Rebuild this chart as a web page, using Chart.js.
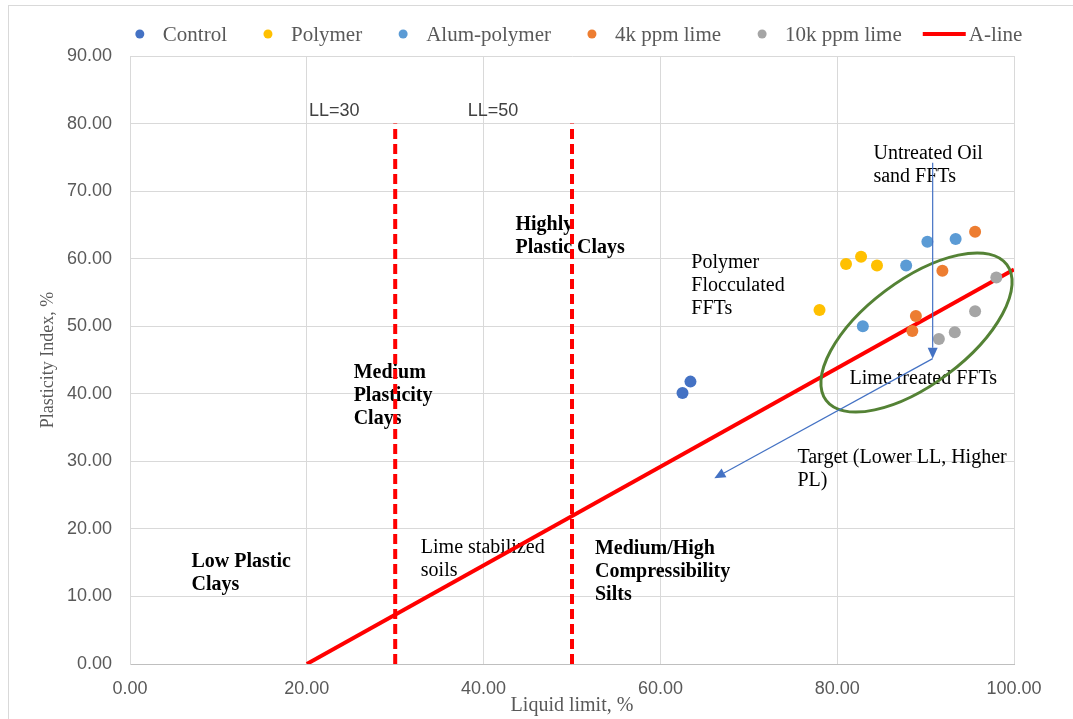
<!DOCTYPE html>
<html>
<head>
<meta charset="utf-8">
<title>Plasticity chart</title>
<script src="https://cdn.jsdelivr.net/npm/chart.js@4.4.1/dist/chart.umd.min.js"></script>
<style>
  html, body { margin: 0; padding: 0; background: #ffffff; overflow: hidden; }
  canvas { display: block; }
</style>
</head>
<body>
<canvas id="chart" width="1073" height="719"></canvas>
<script>
// ---- Data: liquid limit (LL, %) and plasticity index (PI, %) ----
const controlLL = [62.5, 63.4];
const controlPI = [40.1, 41.8];

const polymerLL = [78.0, 81.0, 82.7, 84.5];
const polymerPI = [52.4, 59.2, 60.3, 59.0];

const alumPolymerLL = [82.9, 87.8, 90.2, 93.4];
const alumPolymerPI = [50.0, 59.0, 62.5, 62.9];

const lime4kLL = [95.6, 91.9, 88.9, 88.5];
const lime4kPI = [64.0, 58.2, 51.5, 49.3];

const lime10kLL = [98.0, 95.6, 93.3, 91.5];
const lime10kPI = [57.2, 52.2, 49.1, 48.1];

// A-line end points
const aLineLL = [20, 100];
const aLinePI = [0, 58.4];

// Liquid-limit boundaries (LL = 30 and LL = 50)
const boundaryLL = [30, 50];
const boundaryPI = [0, 80];

// Axis ticks
const xTicks = [0, 20, 40, 60, 80, 100];
const yTicks = [0, 10, 20, 30, 40, 50, 60, 70, 80, 90];

// Arrows: [fromLL, fromPI, toLL, toPI]
const untreatedArrow = [90.8, 74.2, 90.8, 45.2];
const targetArrow = [90.8, 45.2, 66.1, 27.5];

// Circled zone of lime treated points (centre in data units)
const limeZoneLL = 88.97;
const limeZonePI = 49.07;

const pairs = (xs, ys) => xs.map((x, i) => ({ x: x, y: ys[i] }));

const COLORS = {
  control: '#4472C4',
  polymer: '#FFC000',
  alum: '#5B9BD5',
  lime4k: '#ED7D31',
  lime10k: '#A5A5A5',
  aline: '#FF0000'
};

const SERIF = '"Liberation Serif", "Times New Roman", serif';
const SANS = '"Liberation Sans", Arial, sans-serif';

function scatterSet(label, xs, ys, color) {
  return {
    label: label,
    data: pairs(xs, ys),
    backgroundColor: color,
    borderColor: color,
    borderWidth: 0,
    pointRadius: 6,
    pointHoverRadius: 6,
    showLine: false
  };
}

const datasets = [
  scatterSet('Control', controlLL, controlPI, COLORS.control),
  scatterSet('Polymer', polymerLL, polymerPI, COLORS.polymer),
  scatterSet('Alum-polymer', alumPolymerLL, alumPolymerPI, COLORS.alum),
  scatterSet('4k ppm lime', lime4kLL, lime4kPI, COLORS.lime4k),
  scatterSet('10k ppm lime', lime10kLL, lime10kPI, COLORS.lime10k),
  {
    label: 'A-line',
    data: pairs(aLineLL, aLinePI),
    showLine: true,
    borderColor: COLORS.aline,
    backgroundColor: COLORS.aline,
    borderWidth: 4,
    pointRadius: 0,
    borderCapStyle: 'butt'
  }
].concat(boundaryLL.map(ll => ({
  label: 'LL=' + ll,
  data: pairs([ll, ll], boundaryPI),
  showLine: true,
  borderColor: COLORS.aline,
  borderWidth: 4,
  borderDash: [10, 5],
  pointRadius: 0
})));

// Legend entries (series shown in the key)
const legendItems = [
  { text: 'Control', color: COLORS.control, kind: 'dot' },
  { text: 'Polymer', color: COLORS.polymer, kind: 'dot' },
  { text: 'Alum-polymer', color: COLORS.alum, kind: 'dot' },
  { text: '4k ppm lime', color: COLORS.lime4k, kind: 'dot' },
  { text: '10k ppm lime', color: COLORS.lime10k, kind: 'dot' },
  { text: 'A-line', color: COLORS.aline, kind: 'line' }
];

// Text notes placed in data units (left edge, first baseline)
const notes = [
  { lines: ['LL=30'], x: 20.25, y: 81.1, font: '18px ' + SANS, color: '#404040' },
  { lines: ['LL=50'], x: 38.2, y: 81.1, font: '18px ' + SANS, color: '#404040' },
  { lines: ['Highly', 'Plastic Clays'], x: 43.6, y: 64.2, font: 'bold 20px ' + SERIF },
  { lines: ['Medium', 'Plasticity', 'Clays'], x: 25.3, y: 42.3, font: 'bold 20px ' + SERIF },
  { lines: ['Low Plastic', 'Clays'], x: 6.96, y: 14.4, font: 'bold 20px ' + SERIF },
  { lines: ['Lime stabilized', 'soils'], x: 32.9, y: 16.4, font: '20px ' + SERIF },
  { lines: ['Medium/High', 'Compressibility', 'Silts'], x: 52.6, y: 16.3, font: 'bold 20px ' + SERIF },
  { lines: ['Polymer', 'Flocculated', 'FFTs'], x: 63.5, y: 58.6, font: '20px ' + SERIF },
  { lines: ['Untreated Oil', 'sand FFTs'], x: 84.1, y: 74.7, font: '20px ' + SERIF },
  { lines: ['Lime treated FFTs'], x: 81.4, y: 41.5, font: '20px ' + SERIF },
  { lines: ['Target (Lower LL, Higher', 'PL)'], x: 75.5, y: 29.7, font: '20px ' + SERIF }
];

function drawArrow(ctx, xs, ys, a) {
  const x1 = xs.getPixelForValue(a[0]), y1 = ys.getPixelForValue(a[1]);
  const x2 = xs.getPixelForValue(a[2]), y2 = ys.getPixelForValue(a[3]);
  const ang = Math.atan2(y2 - y1, x2 - x1);
  const head = 11, half = 5;
  ctx.save();
  ctx.strokeStyle = COLORS.control;
  ctx.fillStyle = COLORS.control;
  ctx.lineWidth = 1.2;
  ctx.beginPath();
  ctx.moveTo(x1, y1);
  ctx.lineTo(x2 - Math.cos(ang) * head, y2 - Math.sin(ang) * head);
  ctx.stroke();
  ctx.beginPath();
  ctx.moveTo(x2, y2);
  ctx.lineTo(x2 - Math.cos(ang) * head + Math.sin(ang) * half, y2 - Math.sin(ang) * head - Math.cos(ang) * half);
  ctx.lineTo(x2 - Math.cos(ang) * head - Math.sin(ang) * half, y2 - Math.sin(ang) * head + Math.cos(ang) * half);
  ctx.closePath();
  ctx.fill();
  ctx.restore();
}

const decorations = {
  id: 'decorations',
  beforeDraw(chart) {
    const ctx = chart.ctx;
    ctx.save();
    ctx.fillStyle = '#ffffff';
    ctx.fillRect(0, 0, chart.width, chart.height);
    // outer chart frame
    ctx.strokeStyle = '#D9D9D9';
    ctx.lineWidth = 1;
    ctx.strokeRect(8.5, 5.5, chart.width + 20, chart.height + 20);
    ctx.restore();
  },
  beforeDatasetsDraw(chart) {
    const ctx = chart.ctx, xs = chart.scales.x, ys = chart.scales.y;
    ctx.save();
    ctx.textAlign = 'left';
    ctx.textBaseline = 'alphabetic';
    notes.forEach(n => {
      ctx.font = n.font;
      ctx.fillStyle = n.color || '#000000';
      const x = xs.getPixelForValue(n.x);
      const y = ys.getPixelForValue(n.y);
      n.lines.forEach((t, i) => ctx.fillText(t, x, y + i * 23));
    });
    ctx.restore();
  },
  afterDatasetsDraw(chart) {
    const ctx = chart.ctx, xs = chart.scales.x, ys = chart.scales.y;
    // ellipse round the lime treated results
    ctx.save();
    ctx.strokeStyle = '#548235';
    ctx.lineWidth = 3;
    ctx.beginPath();
    ctx.ellipse(xs.getPixelForValue(limeZoneLL), ys.getPixelForValue(limeZonePI),
      113, 52, -36.9 * Math.PI / 180, 0, Math.PI * 2);
    ctx.stroke();
    ctx.restore();
    drawArrow(ctx, xs, ys, untreatedArrow);
    drawArrow(ctx, xs, ys, targetArrow);
  },
  afterDraw(chart) {
    const ctx = chart.ctx, area = chart.chartArea;
    ctx.save();
    // axis titles
    ctx.fillStyle = '#595959';
    ctx.font = '20px ' + SERIF;
    ctx.textAlign = 'center';
    ctx.textBaseline = 'alphabetic';
    ctx.fillText('Liquid limit, %', (area.left + area.right) / 2, 711);
    ctx.save();
    ctx.translate(53, (area.top + area.bottom) / 2);
    ctx.rotate(-Math.PI / 2);
    ctx.font = '18px ' + SERIF;
    ctx.fillText('Plasticity Index, %', 0, 0);
    ctx.restore();

    // legend
    ctx.font = '21px ' + SERIF;
    ctx.textAlign = 'left';
    ctx.textBaseline = 'middle';
    const ly = 34;
    let x = 139.8;
    legendItems.forEach((it, i) => {
      const w = ctx.measureText(it.text).width;
      if (it.kind === 'dot') {
        ctx.fillStyle = it.color;
        ctx.beginPath();
        ctx.arc(x, ly, 4.5, 0, Math.PI * 2);
        ctx.fill();
        ctx.fillStyle = '#595959';
        ctx.fillText(it.text, x + 23, ly + 1);
        x = x + 23 + w;
      } else {
        ctx.strokeStyle = it.color;
        ctx.lineWidth = 4;
        ctx.beginPath();
        ctx.moveTo(x, ly);
        ctx.lineTo(x + 43, ly);
        ctx.stroke();
        ctx.fillStyle = '#595959';
        ctx.fillText(it.text, x + 46, ly + 1);
        x = x + 46 + w;
      }
      const next = legendItems[i + 1];
      if (next) x += next.kind === 'dot' ? 41 : 21;
    });
    ctx.restore();
  }
};

new Chart(document.getElementById('chart').getContext('2d'), {
  type: 'scatter',
  data: { datasets: datasets },
  options: {
    responsive: false,
    devicePixelRatio: 1,
    animation: false,
    layout: { padding: { left: 0, right: 59, top: 56, bottom: 0 } },
    plugins: {
      legend: { display: false },
      tooltip: { enabled: false }
    },
    scales: {
      x: {
        type: 'linear',
        min: 0,
        max: 100,
        afterFit: s => { s.height = 55; },
        afterBuildTicks: s => { s.ticks = xTicks.map(v => ({ value: v })); },
        ticks: {
          padding: 14,
          color: '#595959',
          font: { family: SANS, size: 18 },
          maxRotation: 0,
          callback: v => Number(v).toFixed(2)
        },
        grid: { color: '#D9D9D9', lineWidth: 1, drawTicks: false },
        border: { display: true, color: '#BFBFBF', width: 1 }
      },
      y: {
        type: 'linear',
        min: 0,
        max: 90,
        afterFit: s => { s.width = 130; },
        afterBuildTicks: s => { s.ticks = yTicks.map(v => ({ value: v })); },
        ticks: {
          padding: 18,
          color: '#595959',
          font: { family: SANS, size: 18 },
          callback: v => Number(v).toFixed(2)
        },
        grid: { color: '#D9D9D9', lineWidth: 1, drawTicks: false },
        border: { display: true, color: '#D9D9D9', width: 1 }
      }
    }
  },
  plugins: [decorations]
});
</script>
</body>
</html>
